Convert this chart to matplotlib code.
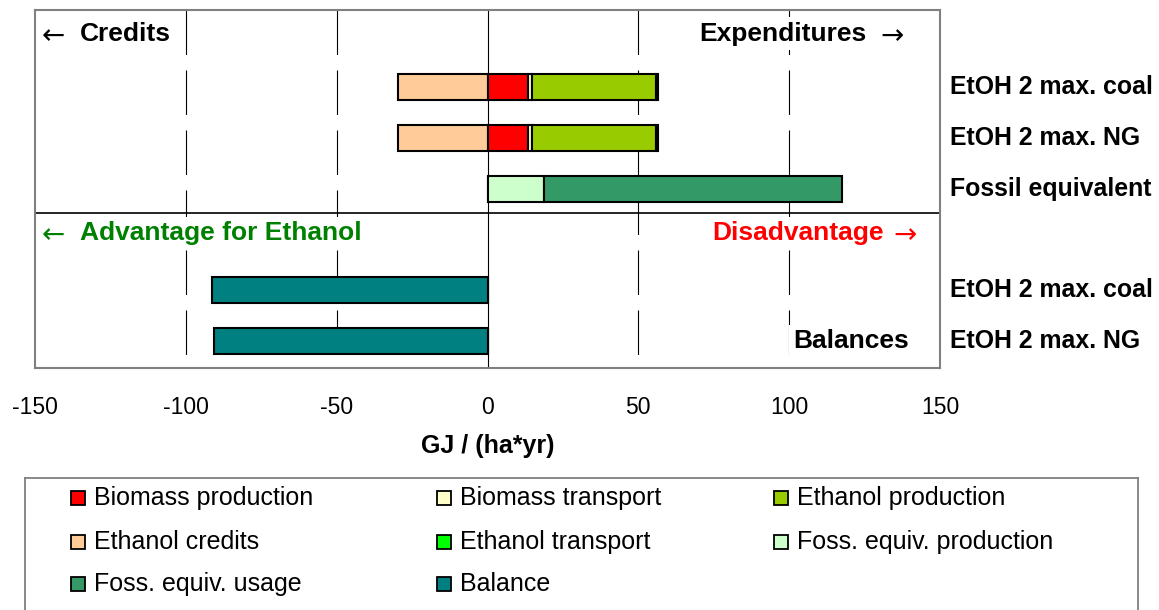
import numpy as np
import matplotlib
matplotlib.use('Agg')
import matplotlib.pyplot as plt
from matplotlib.patches import Rectangle

plt.rcParams['font.family'] = ['Liberation Sans', 'DejaVu Sans']

# rows from top to bottom (row 3 holds the "advantage" captions)
row_pos = [0, 1, 2, 4, 5]
row_labels = ['EtOH 2 max. coal', 'EtOH 2 max. NG', 'Fossil equivalent',
              'EtOH 2 max. coal', 'EtOH 2 max. NG']

# GJ / (ha*yr), one value per row
ethanol_credits   = [-29.7, -29.7, 0, 0, 0]
biomass_prod      = [13.5, 13.5, 0, 0, 0]
biomass_transport = [1.1, 1.1, 0, 0, 0]
ethanol_prod      = [41.2, 41.2, 0, 0, 0]
ethanol_transport = [0.8, 0.8, 0, 0, 0]
foss_prod         = [0, 0, 18.6, 0, 0]
foss_usage        = [0, 0, 98.8, 0, 0]
balance           = [0, 0, 0, -91.4, -90.7]

series = [
  ('Biomass production', biomass_prod, '#FF0000'),
  ('Biomass transport', biomass_transport, '#FFFFCC'),
  ('Ethanol production', ethanol_prod, '#99CC00'),
  ('Ethanol transport', ethanol_transport, '#00CC00'),
  ('Foss. equiv. production', foss_prod, '#CCFFCC'),
  ('Foss. equiv. usage', foss_usage, '#339966'),
]
credit_color = '#FFCC99'
balance_color = '#008080'

W, H = 1159, 610
fig = plt.figure(figsize=(W/100, H/100), dpi=100)
ax = fig.add_axes([35/W, 1-368/H, 905/W, 358/H])

bar_h = 0.51
ew = 1.5

# dashed gridlines, drawn from top to bottom
for xg in [-100, -50, 50, 100]:
  ax.axvline(xg, ymin=1, ymax=0, color='black', lw=0.8,
             linestyle=(0, (40, 14)), zorder=0)
ax.axvline(0, color='black', lw=0.8, zorder=1)

# credits (negative side)
ax.barh(row_pos, ethanol_credits, height=bar_h, color=credit_color,
        edgecolor='black', lw=ew, zorder=3)
# stacked expenditures (positive side)
left = np.zeros(len(row_pos))
for name, vals, col in series:
  vals = np.array(vals, dtype=float)
  mask = vals > 0
  ax.barh(np.array(row_pos)[mask], vals[mask], left=left[mask], height=bar_h,
          color=col, edgecolor='black', lw=ew, zorder=3)
  left += vals
# balances
bal = np.array(balance)
mask = bal != 0
ax.barh(np.array(row_pos)[mask], bal[mask], height=bar_h, color=balance_color,
        edgecolor='black', lw=ew, zorder=3)

ax.set_xlim(-150, 150)
ax.set_ylim(5.53, -1.516)
ax.axhline(2.48, color='black', lw=1.2, zorder=2)

ax.set_yticks([])
ax.set_xticks([-150, -100, -50, 0, 50, 100, 150])
ax.set_xticklabels(['-150', '-100', '-50', '0', '50', '100', '150'])
ax.tick_params(axis='x', length=0, pad=20, labelsize=16.5)
for sp in ax.spines.values():
  sp.set_color('#808080')
  sp.set_linewidth(1.5)
ax.set_xlabel('GJ / (ha*yr)', fontsize=18, fontweight='bold', labelpad=11)

# category labels right of the plot
ytr = ax.get_yaxis_transform()
for y, lab in zip(row_pos, row_labels):
  ax.text(1.011, y, lab, transform=ytr, ha='left', va='center',
          fontsize=17.9, fontweight='bold', clip_on=False)

# captions inside the plot, arrows drawn as separate glyphs
box = dict(facecolor='white', edgecolor='none', pad=3)
arrow_kw = dict(ha='center', va='center', fontsize=20, family='DejaVu Sans',
                bbox=box, zorder=4)
ax.text(-135.1, -1.05, 'Credits', ha='left', va='center', fontsize=19,
        fontweight='bold', bbox=box, zorder=4)
ax.text(-144.0, -1.0, '\u2190', **arrow_kw)
ax.text(125.5, -1.05, 'Expenditures', ha='right', va='center', fontsize=19,
        fontweight='bold', bbox=box, zorder=4)
ax.text(134.1, -1.0, '\u2192', **arrow_kw)
ax.text(-135.1, 2.87, 'Advantage for Ethanol', ha='left', va='center',
        fontsize=19, fontweight='bold', color='#008000', bbox=box, zorder=4)
ax.text(-144.0, 2.92, '\u2190', color='#008000', **arrow_kw)
ax.text(131.4, 2.87, 'Disadvantage', ha='right', va='center', fontsize=19,
        fontweight='bold', color='#FF0000', bbox=box, zorder=4)
ax.text(138.4, 2.92, '\u2192', color='#FF0000', **arrow_kw)
ax.text(139.6, 5.0, 'Balances', ha='right', va='center', fontsize=19,
        fontweight='bold', bbox=box, zorder=4)

# legend box, laid out in pixel units of the figure
leg_names = ['Biomass production', 'Biomass transport', 'Ethanol production',
             'Ethanol credits', 'Ethanol transport', 'Foss. equiv. production',
             'Foss. equiv. usage', 'Balance']
leg_colors = ['#FF0000', '#FFFFCC', '#99CC00', credit_color, '#00FF00',
              '#CCFFCC', '#339966', balance_color]
col_x = [71, 437, 774]
row_y = [498, 542, 584]

lax = fig.add_axes([25/W, -30/H, (1138-25)/W, (640-478)/H])
lax.set_xlim(25, 1138)
lax.set_ylim(640, 478)
lax.set_xticks([])
lax.set_yticks([])
for sp in lax.spines.values():
  sp.set_color('#808080')
  sp.set_linewidth(1.3)
for i, (name, c) in enumerate(zip(leg_names, leg_colors)):
  x0 = col_x[i % 3]
  y0 = row_y[i // 3]
  lax.add_patch(Rectangle((x0, y0 - 7), 14, 14, facecolor=c, edgecolor='black', lw=1.3))
  lax.text(x0 + 23, y0, name, ha='left', va='center', fontsize=18)

fig.savefig('out.png', dpi=100)
